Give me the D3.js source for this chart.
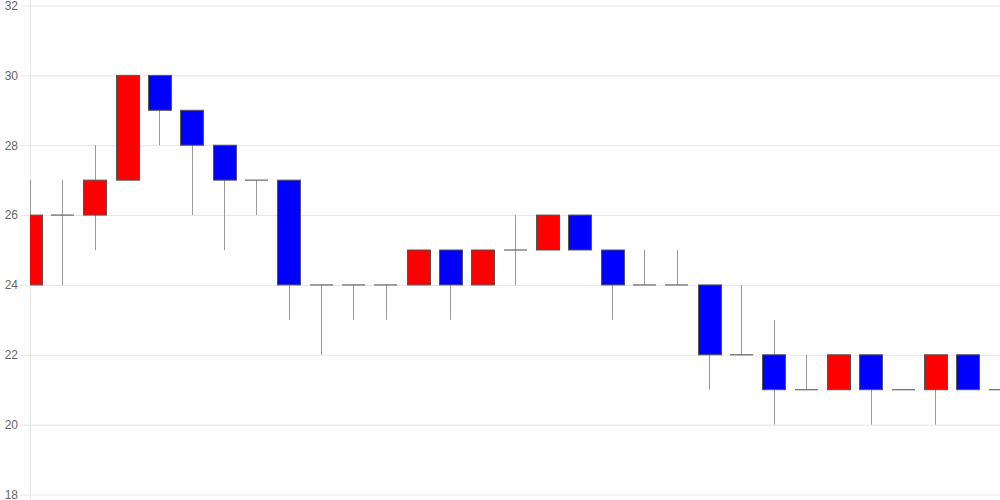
<!DOCTYPE html>
<html><head><meta charset="utf-8">
<script src="https://cdn.jsdelivr.net/npm/d3@7"></script>
<style>html,body{margin:0;padding:0;background:#fff;}svg{display:block;}</style>
</head><body>
<svg id="c" width="1000" height="500"></svg>
<script>
const opens  = [24,26,26,27,30,29,28,27,27,24,24,24,24,25,24,25,25,26,25,24,24,24,22,22,21,21,22,21,21,22,21];
const highs  = [27,27,28,30,30,29,28,27,27,24,24,24,25,25,25,26,26,26,25,25,25,24,24,23,22,22,22,21,22,22,22];
const lows   = [24,24,25,27,28,26,25,26,23,22,23,23,24,23,24,24,25,25,23,24,24,21,22,20,21,21,20,21,20,21,21];
const closes = [26,26,27,30,29,28,27,27,24,24,24,24,25,24,25,25,26,25,24,24,24,22,22,21,21,22,21,21,22,21,21];
const yTicks = [18,20,22,24,26,28,30,32];

(function(){
const svg = d3.select("#c");
const pL = 30, pR = 1000, pT = 5.5, pB = 494.5;
const x = d3.scaleLinear().domain([0, opens.length - 1]).range([pL, pR]);
const y = d3.scaleLinear().domain([18, 32]).range([pB, pT]);
const bw = 23;

svg.append("defs").append("clipPath").attr("id","clip")
  .append("rect").attr("x",pL).attr("y",0).attr("width",pR-pL).attr("height",500);

const ya = svg.append("g").attr("transform",`translate(${pL},0)`)
  .call(d3.axisLeft(y).tickValues(yTicks).tickSize(10).tickPadding(2).tickFormat(d3.format("d")));
ya.select(".domain").remove();
ya.selectAll(".tick line").attr("stroke","#e6e6e6").attr("x2", pR-pL).attr("x1",-10);
ya.selectAll(".tick text").attr("fill","#666").attr("font-size","12px").attr("font-family","'Liberation Sans', Arial, sans-serif");
svg.append("line").attr("x1",pL+0.5).attr("x2",pL+0.5).attr("y1",0).attr("y2",500).attr("stroke","#e6e6e6");

const g = svg.append("g").attr("clip-path","url(#clip)");
const idx = d3.range(opens.length);
g.selectAll("line.w").data(idx).join("line").attr("class","w")
  .attr("x1", i => Math.round(x(i)) + 0.5).attr("x2", i => Math.round(x(i)) + 0.5)
  .attr("y1", i => y(highs[i])).attr("y2", i => y(lows[i]))
  .attr("stroke","#999").attr("stroke-width",1);
g.selectAll("rect.b").data(idx.filter(i => opens[i] !== closes[i])).join("rect").attr("class","b")
  .attr("x", i => Math.round(x(i) - bw/2) + 0.5)
  .attr("y", i => y(Math.max(opens[i], closes[i])))
  .attr("width", bw)
  .attr("height", i => Math.abs(y(opens[i]) - y(closes[i])))
  .attr("fill", i => closes[i] > opens[i] ? "#ff0000" : "#0000ff")
  .attr("stroke","#555").attr("stroke-width",1);
g.selectAll("line.d").data(idx.filter(i => opens[i] === closes[i])).join("line").attr("class","d")
  .attr("x1", i => Math.round(x(i) - bw/2)).attr("x2", i => Math.round(x(i) + bw/2))
  .attr("y1", i => y(opens[i])).attr("y2", i => y(opens[i]))
  .attr("stroke","#666").attr("stroke-width",1.2);
})();
</script>
</body></html>
